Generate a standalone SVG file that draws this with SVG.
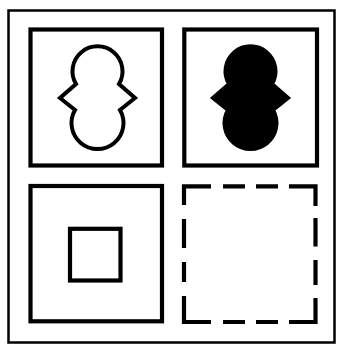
<svg xmlns="http://www.w3.org/2000/svg" width="337" height="344" viewBox="0 0 337 344">
<style>
.frame{fill:none;stroke:#000;stroke-width:2.5}
.box{fill:none;stroke:#000;stroke-width:4.2}
.outline{fill:#fff;stroke:#000;stroke-width:4;stroke-linejoin:miter}
.solid{fill:#000;stroke:#000;stroke-width:4;stroke-linejoin:miter}
</style>
<defs>
<path id="shape" d="M76 84 A25 25 0 1 1 119 84 L135 98 L120 110 A26 26 0 1 1 75 110 L60 98 Z"/>
</defs>
<rect width="337" height="344" fill="#fff"/>
<g id="frame"><rect class="frame" x="8.5" y="10.5" width="326" height="332"/></g>
<g id="panel-outline">
<rect class="box" x="30.5" y="29.5" width="131.5" height="136"/>
<use href="#shape" class="outline"/>
</g>
<g id="panel-filled">
<rect class="box" x="184.3" y="29.5" width="132.7" height="136"/>
<use href="#shape" class="solid" transform="translate(153 0)"/>
</g>
<g id="panel-square">
<rect class="box" x="30.5" y="186" width="131.5" height="135.3"/>
<rect class="box" x="70" y="228.8" width="50.5" height="51.7"/>
</g>
<g id="panel-dashed">
<path class="box" d="M184 205 L184 186.3 L211 186.3 M223 186.3 L245 186.3 M256 186.3 L278 186.3 M289 186.3 L315.5 186.3 L315.5 206 M315.5 218 L315.5 246.5 M315.5 260 L315.5 285 M315.5 298 L315.5 322 L289 322 M278 322 L256 322 M245 322 L223 322 M211 322 L184 322 L184 296 M184 282 L184 262 M184 248 L184 219"/>
</g>
</svg>
